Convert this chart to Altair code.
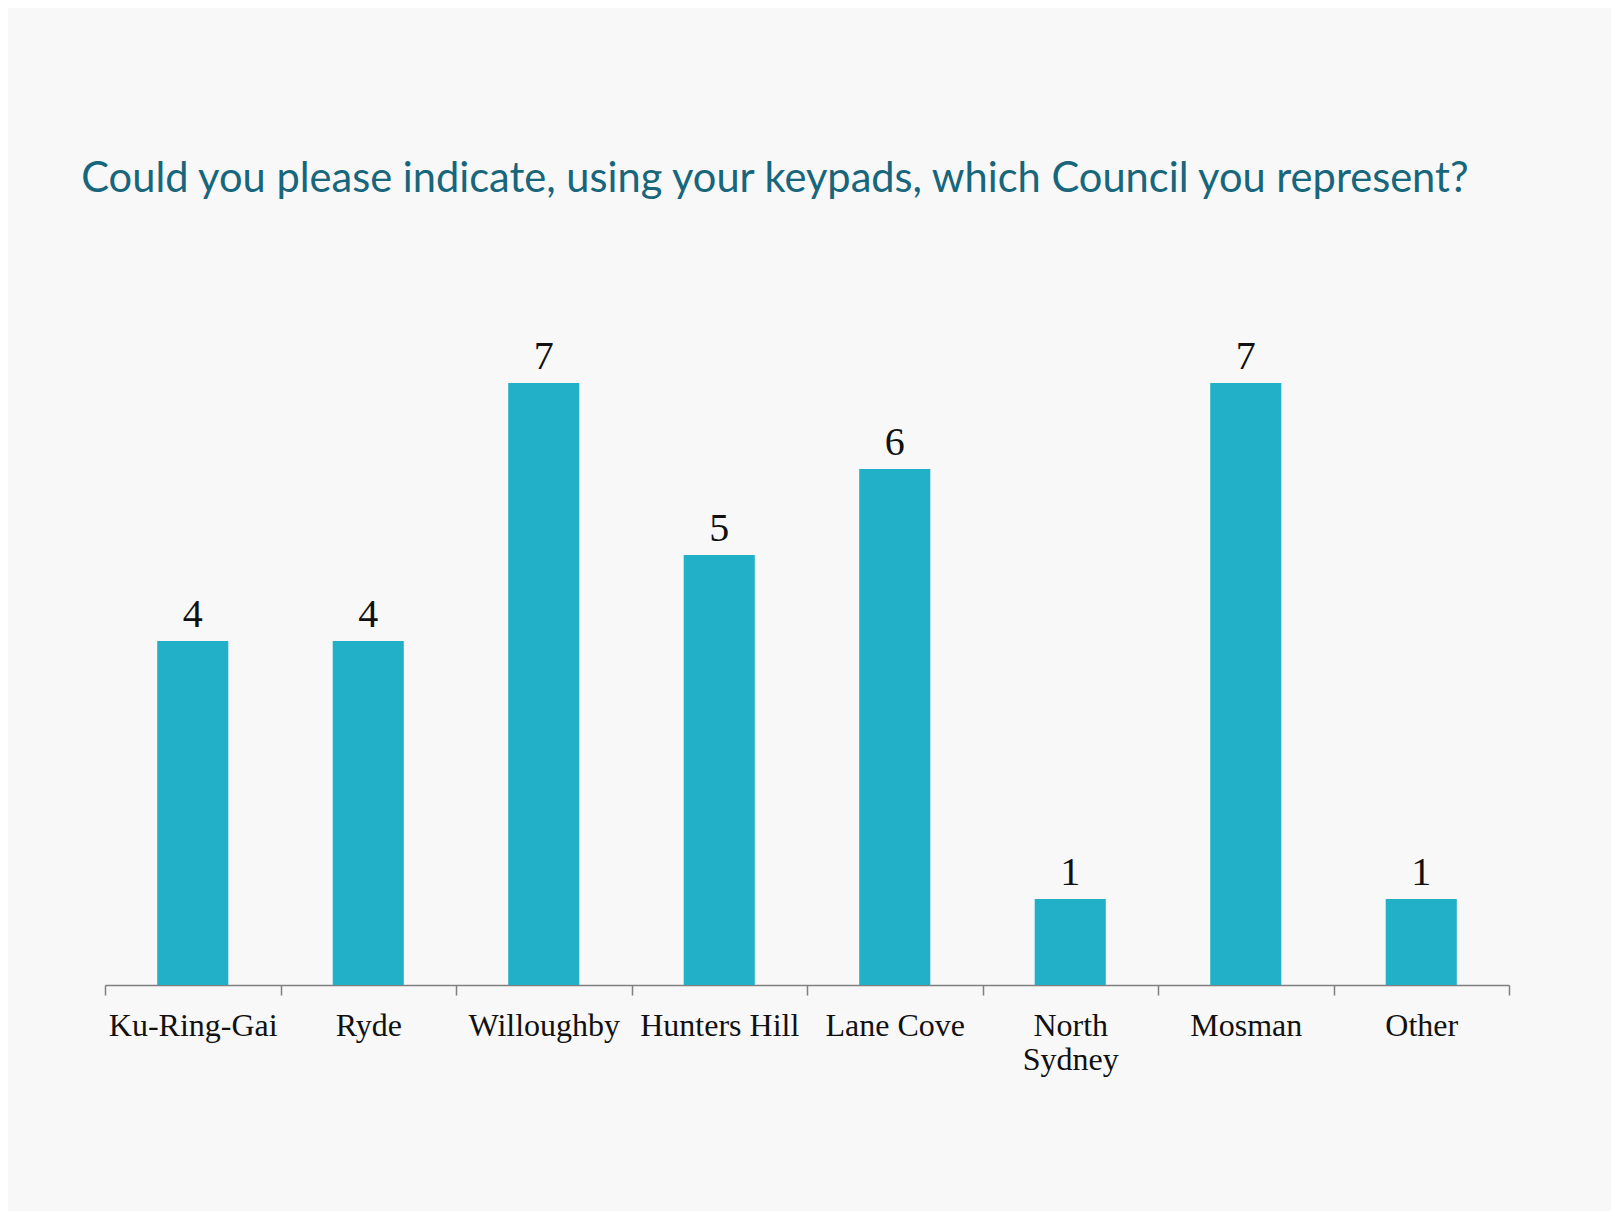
import altair as alt
import pandas as pd

councils = ["Ku-Ring-Gai", "Ryde", "Willoughby", "Hunters Hill", "Lane Cove",
            "North Sydney", "Mosman", "Other"]
counts = [4, 4, 7, 5, 6, 1, 7, 1]
title_text = "Could you please indicate, using your keypads, which Council you represent?"

df = pd.DataFrame({"council": councils, "count": counts})

x = alt.X(
    "council:N",
    sort=councils,
    title=None,
    scale=alt.Scale(paddingInner=0, paddingOuter=0),
    axis=alt.Axis(
        labelAngle=0,
        labelFont="Liberation Serif",
        labelFontSize=32,
        labelColor="#111111",
        labelPadding=15,
        labelLineHeight=34,
        labelExpr="datum.value == 'North Sydney' ? ['North', 'Sydney'] : datum.value",
        tickBand="extent",
        tickSize=10,
        tickColor="#7f7f7f",
        tickWidth=1.5,
        domainColor="#7f7f7f",
        domainWidth=1.5,
        grid=False,
    ),
)
y = alt.Y("count:Q", scale=alt.Scale(domain=[0, 7], nice=False, zero=True), axis=None)

bars = alt.Chart(df).mark_bar(color="#21b0c7", width=alt.RelativeBandSize(0.405)).encode(x=x, y=y)
labels = alt.Chart(df).mark_text(
    font="Liberation Serif", fontSize=40, color="#111111", dy=-14, baseline="alphabetic"
).encode(x=alt.X("council:N", sort=councils), y="count:Q", text="count:Q")

chart = (
    alt.layer(bars, labels)
    .properties(
        width=1404,
        height=602,
        autosize=alt.AutoSizeParams(type="none"),
        padding={"left": 97, "top": 375, "right": 102, "bottom": 226},
        background="#f8f8f8",
        title=alt.TitleParams(
            text=title_text,
            anchor="start",
            font="Lato",
            fontSize=41.6,
            fontWeight="normal",
            color="#17667b",
            dx=-23,
            offset=136,
        ),
    )
    .configure_view(stroke=None)
)

chart.save("out.html", embed_options={"renderer": "svg", "actions": False})
